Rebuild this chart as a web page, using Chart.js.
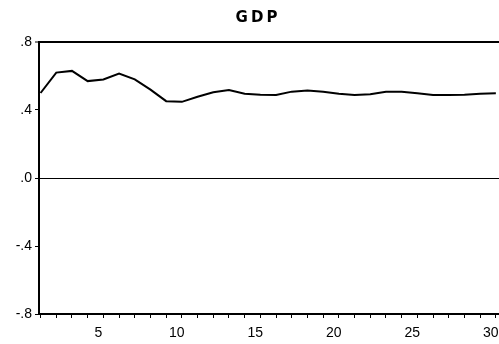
<!DOCTYPE html>
<html>
<head>
<meta charset="utf-8">
<script src="https://cdn.jsdelivr.net/npm/chart.js@4/dist/chart.umd.min.js"></script>
<style>
  html, body { margin: 0; padding: 0; background: #fff; }
  #wrap { width: 499px; height: 344px; position: relative; }
</style>
</head>
<body>
<div id="wrap"><canvas id="c"></canvas></div>
<script>
// Impulse response of GDP over 30 periods
const periods = [1,2,3,4,5,6,7,8,9,10,11,12,13,14,15,16,17,18,19,20,21,22,23,24,25,26,27,28,29,30];
const gdp = [0.50,0.62,0.63,0.57,0.58,0.615,0.58,0.52,0.452,0.448,0.478,0.504,0.518,0.496,0.49,0.488,0.508,0.514,0.508,0.496,0.488,0.492,0.508,0.508,0.498,0.488,0.488,0.49,0.496,0.498];
const xTickLabels = [5,10,15,20,25,30];
const yTicks = [-0.8,-0.4,0,0.4,0.8];
const title = 'GDP';

const FONT = "'Liberation Sans Narrow', 'Liberation Sans', Arial, sans-serif";

const titlePlugin = {
  id: 'topTitle',
  afterDraw(chart) {
    const { ctx } = chart;
    ctx.save();
    ctx.font = "bold 15px 'DejaVu Sans', 'Liberation Sans', Arial, sans-serif";
    ctx.fillStyle = '#000';
    ctx.textAlign = 'center';
    ctx.textBaseline = 'middle';
    if ('letterSpacing' in ctx) ctx.letterSpacing = '3px';
    ctx.fillText(title, 258, 18);
    ctx.restore();
  }
};

new Chart(document.getElementById('c'), {
  type: 'line',
  data: {
    datasets: [{
      data: periods.map((p, i) => ({ x: p, y: gdp[i] })),
      borderColor: '#000',
      borderWidth: 2,
      pointRadius: 0,
      tension: 0,
      fill: false
    }]
  },
  options: {
    responsive: true,
    maintainAspectRatio: false,
    animation: false,
    devicePixelRatio: 1,
    layout: { padding: { top: 42, right: 0, left: 0, bottom: 0 } },
    plugins: { legend: { display: false }, tooltip: { enabled: false } },
    scales: {
      x: {
        type: 'linear',
        min: 0.9,
        max: 30.2,
        afterBuildTicks(scale) {
          scale.ticks = periods.map(v => ({ value: v }));
        },
        afterFit(scale) {
          scale.height = 30;
          scale.paddingRight = 0;
          scale.paddingLeft = 0;
        },
        ticks: {
          autoSkip: false,
          maxRotation: 0,
          color: '#000',
          font: { family: FONT, size: 14 },
          padding: 7,
          labelOffset: -5,
          callback: v => xTickLabels.includes(v) ? String(v) : ''
        },
        grid: {
          drawOnChartArea: false,
          tickLength: 4,
          tickColor: '#000',
          tickWidth: 1
        },
        border: { color: '#000', width: 2 }
      },
      y: {
        min: -0.8,
        max: 0.8,
        afterBuildTicks(scale) {
          scale.ticks = yTicks.map(v => ({ value: v }));
        },
        afterFit(scale) { scale.width = 39; },
        ticks: {
          color: '#000',
          font: { family: FONT, size: 14 },
          padding: 3,
          callback: v => {
            const s = Math.abs(v).toFixed(1).replace(/^0/, '');
            return (v < -1e-9 ? '-' : '') + s;
          }
        },
        grid: {
          drawOnChartArea: true,
          color: ctx => (ctx.tick && (Math.abs(ctx.tick.value) < 1e-9 || Math.abs(ctx.tick.value - 0.8) < 1e-9)) ? '#000' : 'rgba(0,0,0,0)',
          lineWidth: ctx => (ctx.tick && Math.abs(ctx.tick.value - 0.8) < 1e-9) ? 2 : 1,
          tickLength: 4,
          tickColor: '#000',
          tickWidth: 1
        },
        border: { color: '#000', width: 2 }
      }
    }
  },
  plugins: [titlePlugin]
});
</script>
</body>
</html>
